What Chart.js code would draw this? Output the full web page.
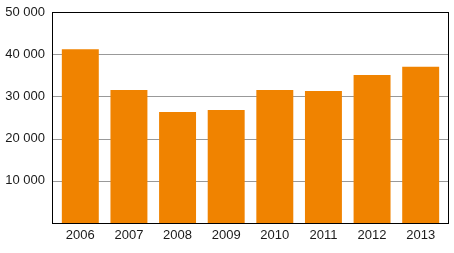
<!DOCTYPE html>
<html>
<head>
<meta charset="utf-8">
<script src="https://cdn.jsdelivr.net/npm/chart.js@4"></script>
<style>
  html, body { margin: 0; padding: 0; background: #fff; }
</style>
</head>
<body>
<canvas id="myChart" width="454" height="253"></canvas>
<script>
// data
const years = ['2006', '2007', '2008', '2009', '2010', '2011', '2012', '2013'];
const values = [41200, 31500, 26300, 26800, 31500, 31300, 35100, 37000];
const yTicks = [10000, 20000, 30000, 40000, 50000];

// thousands with a space, no label at zero
function fmt(v) {
    if (v === 0) return '';
    return String(v).replace(/\B(?=(\d{3})+(?!\d))/g, ' ');
}

// grid lines and frame around the plot, a bit wider than the bar area
const framePlugin = {
    id: 'frame',
    beforeDatasetsDraw(chart) {
        const ctx = chart.ctx;
        const a = chart.chartArea;
        const y = chart.scales.y;
        ctx.save();
        ctx.strokeStyle = '#999999';
        ctx.lineWidth = 1;
        yTicks.forEach(function (t) {
            const py = Math.round(y.getPixelForValue(t)) + 0.5;
            ctx.beginPath();
            ctx.moveTo(a.left - 4, py);
            ctx.lineTo(a.right + 3, py);
            ctx.stroke();
        });
        ctx.restore();
    },
    afterDatasetsDraw(chart) {
        const ctx = chart.ctx;
        const a = chart.chartArea;
        const y = chart.scales.y;
        const top = Math.round(y.getPixelForValue(50000)) + 0.5;
        const bottom = Math.round(y.getPixelForValue(0)) + 0.5;
        ctx.save();
        ctx.strokeStyle = '#000000';
        ctx.lineWidth = 1;
        ctx.strokeRect(a.left - 3.5, top, (a.right + 3.5) - (a.left - 3.5), bottom - top);
        ctx.restore();
    }
};

const chart = document.getElementById('myChart');
new Chart(chart, {
    type: 'bar',
    data: {
        labels: years,
        datasets: [{
            data: values,
            backgroundColor: '#f08300',
            borderWidth: 0,
            barPercentage: 0.76,
            categoryPercentage: 1
        }]
    },
    options: {
        responsive: false,
        animation: false,
        layout: { padding: { top: 12, right: 9, left: 0, bottom: 0 } },
        plugins: { legend: { display: false }, tooltip: { enabled: false } },
        scales: {
            x: {
                grid: { display: false, drawTicks: false },
                border: { display: false },
                ticks: {
                    color: '#1a1a1a',
                    font: { family: 'Liberation Sans', size: 13 },
                    padding: 5,
                    maxRotation: 0
                },
                afterFit(scale) {
                    scale.height = 30;
                    scale.paddingLeft = 0;
                    scale.paddingRight = 0;
                }
            },
            y: {
                min: 0,
                max: 50000,
                grid: { display: false, drawTicks: false },
                border: { display: false },
                afterBuildTicks(scale) {
                    scale.ticks = [0].concat(yTicks).map(v => ({ value: v }));
                },
                ticks: {
                    color: '#1a1a1a',
                    font: { family: 'Liberation Sans', size: 13 },
                    padding: 11,
                    callback: v => fmt(v)
                },
                afterFit(scale) {
                    scale.width = 56;
                    scale.paddingTop = 0;
                    scale.paddingBottom = 0;
                }
            }
        }
    },
    plugins: [framePlugin]
});
</script>
</body>
</html>
